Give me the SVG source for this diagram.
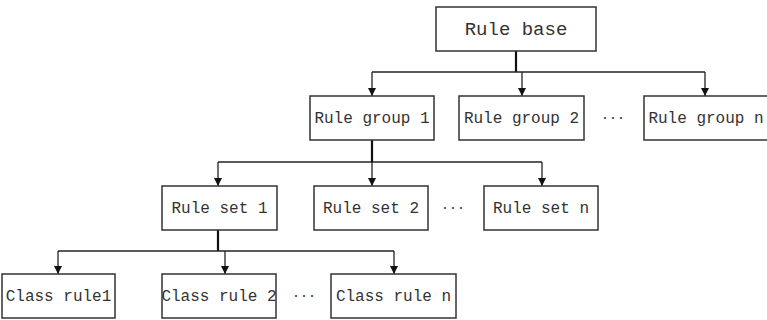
<svg xmlns="http://www.w3.org/2000/svg" width="767" height="320" viewBox="0 0 767 320">
<defs>
<marker id="arr" viewBox="0 0 10 10" refX="10" refY="5" markerWidth="8" markerHeight="8" markerUnits="userSpaceOnUse" orient="auto">
<path d="M0,0 L10,5 L0,10 z" fill="#111"/>
</marker>
<style>
.box{fill:#fff;stroke:#333;stroke-width:1.5}
.t{font-family:"Liberation Mono","DejaVu Sans Mono",monospace;font-size:16px;fill:#333;text-anchor:middle}
.big{font-size:19px}
.c{fill:none;stroke:#222;stroke-width:1.3}
.s{fill:none;stroke:#111;stroke-width:2.2}
.d{font-family:"Liberation Sans",sans-serif;font-size:18px;letter-spacing:2px;fill:#444;text-anchor:middle}
</style>
</defs>
<rect width="767" height="320" fill="#fff"/>
<g id="connectors">
<line class="s" x1="516" y1="51" x2="516" y2="72"/>
<line class="c" x1="372" y1="72" x2="705" y2="72"/>
<line class="c" x1="372" y1="72" x2="372" y2="96" marker-end="url(#arr)"/>
<line class="c" x1="522" y1="72" x2="522" y2="96" marker-end="url(#arr)"/>
<line class="c" x1="705" y1="72" x2="705" y2="96" marker-end="url(#arr)"/>
<line class="s" x1="372" y1="140" x2="372" y2="162"/>
<line class="c" x1="218" y1="162" x2="542" y2="162"/>
<line class="c" x1="218" y1="162" x2="218" y2="186" marker-end="url(#arr)"/>
<line class="c" x1="372" y1="162" x2="372" y2="186" marker-end="url(#arr)"/>
<line class="c" x1="542" y1="162" x2="542" y2="186" marker-end="url(#arr)"/>
<line class="s" x1="218" y1="230" x2="218" y2="251"/>
<line class="c" x1="58" y1="251" x2="394" y2="251"/>
<line class="c" x1="58" y1="251" x2="58" y2="274" marker-end="url(#arr)"/>
<line class="c" x1="225" y1="251" x2="225" y2="274" marker-end="url(#arr)"/>
<line class="c" x1="394" y1="251" x2="394" y2="274" marker-end="url(#arr)"/>
</g>
<g id="rule-base"><rect class="box" x="436" y="7" width="160" height="44"/><text class="t big" x="516" y="35">Rule base</text></g>
<g id="rule-group-1"><rect class="box" x="310" y="96" width="124" height="44"/><text class="t" x="372" y="123">Rule group 1</text></g>
<g id="rule-group-2"><rect class="box" x="459" y="96" width="125" height="44"/><text class="t" x="521.5" y="123">Rule group 2</text></g>
<text class="d" x="614" y="123">···</text>
<g id="rule-group-n"><rect class="box" x="644" y="96" width="126" height="44"/><text class="t" x="706" y="123">Rule group n</text></g>
<g id="rule-set-1"><rect class="box" x="162" y="186" width="115" height="44"/><text class="t" x="219.5" y="213">Rule set 1</text></g>
<g id="rule-set-2"><rect class="box" x="314" y="186" width="114" height="44"/><text class="t" x="371" y="213">Rule set 2</text></g>
<text class="d" x="454" y="213">···</text>
<g id="rule-set-n"><rect class="box" x="484" y="186" width="114" height="44"/><text class="t" x="541" y="213">Rule set n</text></g>
<g id="class-rule-1"><rect class="box" x="2" y="274" width="113" height="44"/><text class="t" x="58.5" y="301">Class rule1</text></g>
<g id="class-rule-2"><rect class="box" x="162" y="274" width="114" height="44"/><text class="t" x="219" y="301">Class rule 2</text></g>
<text class="d" x="305" y="301">···</text>
<g id="class-rule-n"><rect class="box" x="331" y="274" width="125" height="44"/><text class="t" x="393.5" y="301">Class rule n</text></g>
</svg>
